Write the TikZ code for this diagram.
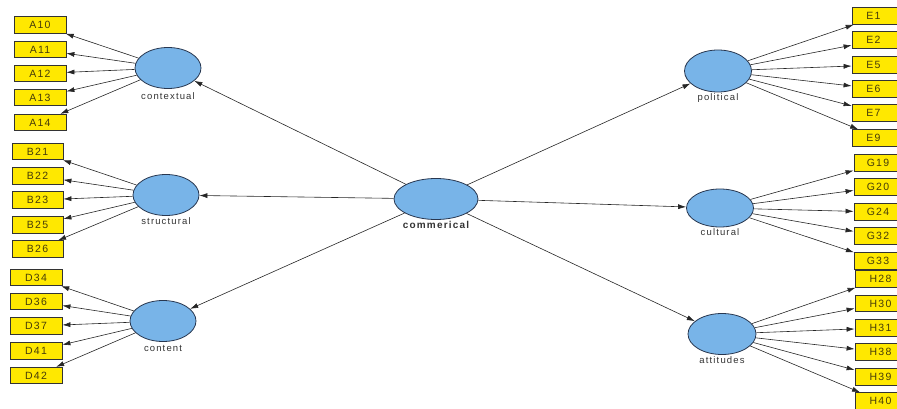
\documentclass[tikz,border=0pt]{standalone}
\usepackage{fontspec}
\setmainfont{Liberation Sans}[LetterSpace=12]
\usetikzlibrary{shapes.geometric,arrows.meta}

\definecolor{latblue}{RGB}{120,180,232}
\definecolor{latline}{RGB}{40,55,80}
\definecolor{indyellow}{RGB}{255,232,0}
\definecolor{indtext}{RGB}{70,60,10}

\tikzset{
	latent/.style={ellipse, draw=latline, fill=latblue, line width=0.8pt,
		inner sep=0pt, minimum width=66pt, minimum height=41pt},
	ind/.style={rectangle, draw=black!80, fill=indyellow, line width=0.8pt,
		inner sep=0pt, minimum width=52pt, minimum height=16.5pt,
		font=\fontsize{10.5}{12}\selectfont, text=indtext},
	lab/.style={inner sep=0pt, font=\fontsize{9.5}{11}\selectfont, text=black!80},
	link/.style={-{Latex[length=8pt,width=5pt]}, line width=0.6pt, draw=black!85}
}

\begin{document}
\begin{tikzpicture}[x=1pt, y=-1pt]

		\useasboundingbox (0,0) rectangle (897,409);

		% Latent variables
		\node[latent, minimum width=84pt] (commerical) at (436,199) {};
		\node[latent] (contextual) at (168,68) {};
		\node[latent] (structural) at (166,195) {};
		\node[latent] (content) at (163,321) {};
		\node[latent, minimum width=67pt, minimum height=42pt] (political) at (718,71) {};
		\node[latent, minimum width=67pt, minimum height=38pt] (cultural) at (720,208) {};
		\node[latent, minimum width=68pt] (attitudes) at (722,334) {};

		% Names under the ellipses
		\node[lab] (lcontextual) at (168,96) {contextual};
		\node[lab] (lstructural) at (166,221) {structural};
		\node[lab] (lcontent) at (163,348) {content};
		\node[lab, font=\fontsize{10}{12}\selectfont\bfseries] (lcommerical) at (436,225) {commerical};
		\node[lab] (lpolitical) at (718,98) {political};
		\node[lab] (lcultural) at (720,232) {cultural};
		\node[lab] (lattitudes) at (722,360) {attitudes};

		% Inner model
		\foreach \t in {contextual, structural, content, political, cultural, attitudes}
			\draw[link] (commerical) -- (\t);

		% Indicators, left side
		\foreach \n/\y in {A10/25, A11/49.5, A12/73.5, A13/97.5, A14/122.5} {
			\node[ind] (\n) at (40,\y) {\n};
			\draw[link] (contextual) -- (\n);
		}
		\foreach \n/\y in {B21/151.5, B22/176, B23/200, B25/225, B26/249} {
			\node[ind, minimum width=51pt] (\n) at (37.5,\y) {\n};
			\draw[link] (structural) -- (\n);
		}
		\foreach \n/\y in {D34/277.5, D36/301.5, D37/326, D41/351, D42/375.5} {
			\node[ind] (\n) at (36,\y) {\n};
			\draw[link] (content) -- (\n);
		}

		% Indicators, right side (cut by the edge)
		\foreach \n/\y in {E1/16, E2/40, E5/65, E6/89, E7/113, E9/138} {
			\node[ind, minimum width=54pt] (\n) at (879,\y) {\n\hspace*{11pt}};
			\draw[link] (political) -- (\n);
		}
		\foreach \n/\y in {G19/163, G20/187, G24/212, G32/236, G33/261} {
			\node[ind, minimum width=52pt] (\n) at (880,\y) {\n\hspace*{4pt}};
			\draw[link] (cultural) -- (\n);
		}
		\foreach \n/\y in {H28/279, H30/303.5, H31/328, H38/352, H39/377, H40/401} {
			\node[ind, minimum width=51pt] (\n) at (880.5,\y) {\n};
			\draw[link] (attitudes) -- (\n);
		}

	\end{tikzpicture}
\end{document}
